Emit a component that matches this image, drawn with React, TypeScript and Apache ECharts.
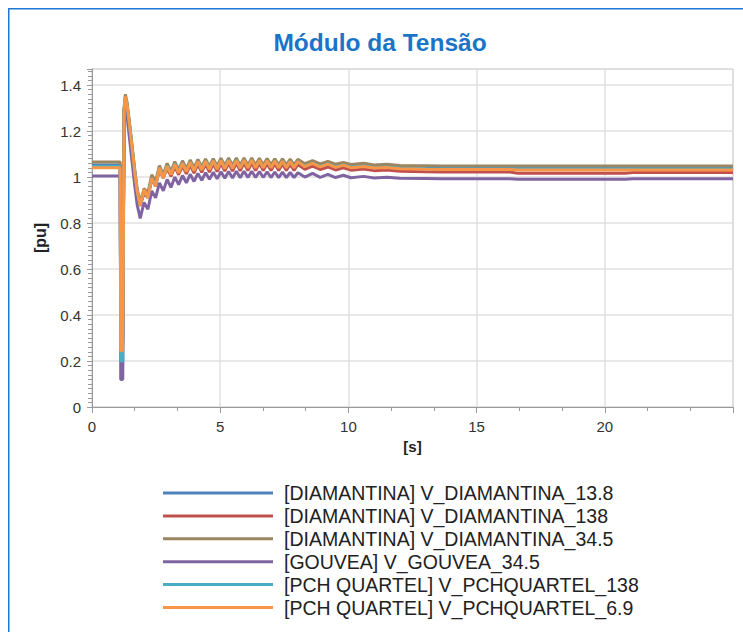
import React, { useEffect, useRef } from "react";
import * as echarts from "echarts";

// time axis (s)
const times = [
  0, 1.1, 1.12, 1.2, 1.25, 1.3, 1.36, 1.46, 1.56, 1.66, 1.76, 1.88,
  2.03, 2.18, 2.33, 2.48, 2.63, 2.78, 2.93, 3.08, 3.23, 3.38, 3.53, 3.68, 3.83, 3.98,
  4.13, 4.28, 4.43, 4.58, 4.73, 4.88, 5.03, 5.18, 5.33, 5.48, 5.63, 5.78, 5.93, 6.08,
  6.23, 6.38, 6.53, 6.68, 6.83, 6.98, 7.13, 7.28, 7.43, 7.58, 7.73, 7.88, 8.03,
  8.3, 8.6, 8.9, 9.2, 9.5, 9.8, 10.1, 10.6, 11, 11.5, 12, 13, 13.6, 16.3, 16.6, 20.8, 21.1, 25,
];

const seriesNames = [
  "[DIAMANTINA] V_DIAMANTINA_13.8",
  "[DIAMANTINA] V_DIAMANTINA_138",
  "[DIAMANTINA] V_DIAMANTINA_34.5",
  "[GOUVEA] V_GOUVEA_34.5",
  "[PCH QUARTEL] V_PCHQUARTEL_138",
  "[PCH QUARTEL] V_PCHQUARTEL_6.9",
];

const seriesColors = ["#4f81bd", "#c0504d", "#9b8660", "#8064a2", "#4bacc6", "#f79646"];

const vDiamantina13_8 = [
  1.052, 1.052, 0.28, 0.28, 1.29, 1.345, 1.32, 1.23, 1.13, 1.03, 0.94, 0.88,
  0.94, 0.92, 1.0, 0.97, 1.045, 1.005, 1.053, 1.018, 1.06, 1.025, 1.064, 1.029, 1.067, 1.033,
  1.069, 1.035, 1.071, 1.037, 1.072, 1.039, 1.074, 1.041, 1.075, 1.041, 1.075, 1.042, 1.075, 1.043,
  1.075, 1.043, 1.074, 1.043, 1.073, 1.044, 1.072, 1.044, 1.071, 1.044, 1.07, 1.044, 1.069,
  1.05, 1.064, 1.049, 1.06, 1.047, 1.056, 1.046, 1.051, 1.044, 1.047, 1.041, 1.039, 1.038, 1.038, 1.038, 1.038, 1.038, 1.038,
];

const vDiamantina138 = [
  1.045, 1.045, 0.27, 0.27, 1.28, 1.34, 1.31, 1.22, 1.12, 1.02, 0.93, 0.875,
  0.93, 0.91, 0.99, 0.96, 1.03, 0.995, 1.038, 1.003, 1.045, 1.01, 1.049, 1.014, 1.052, 1.017,
  1.055, 1.02, 1.057, 1.022, 1.058, 1.024, 1.06, 1.026, 1.061, 1.026, 1.061, 1.027, 1.061, 1.028,
  1.061, 1.028, 1.06, 1.028, 1.059, 1.029, 1.058, 1.029, 1.057, 1.029, 1.056, 1.029, 1.055,
  1.034, 1.048, 1.033, 1.044, 1.031, 1.04, 1.03, 1.035, 1.028, 1.031, 1.025, 1.023, 1.022, 1.022, 1.017, 1.017, 1.02, 1.02,
];

const vDiamantina34_5 = [
  1.066, 1.066, 0.3, 0.3, 1.3, 1.36, 1.33, 1.24, 1.14, 1.04, 0.95, 0.89,
  0.95, 0.93, 1.01, 0.98, 1.05, 1.01, 1.06, 1.025, 1.067, 1.032, 1.071, 1.037, 1.074, 1.041,
  1.077, 1.044, 1.079, 1.046, 1.08, 1.048, 1.082, 1.05, 1.083, 1.05, 1.083, 1.051, 1.083, 1.052,
  1.083, 1.052, 1.082, 1.052, 1.081, 1.053, 1.08, 1.053, 1.079, 1.053, 1.078, 1.053, 1.077,
  1.058, 1.072, 1.057, 1.068, 1.056, 1.064, 1.055, 1.06, 1.053, 1.056, 1.05, 1.049, 1.048, 1.048, 1.048, 1.048, 1.048, 1.048,
];

const vGouvea34_5 = [
  1.005, 1.005, 0.12, 0.12, 1.24, 1.3, 1.27, 1.17, 1.07, 0.97, 0.88, 0.82,
  0.89, 0.86, 0.94, 0.91, 0.975, 0.94, 0.99, 0.955, 1.0, 0.967, 1.007, 0.975, 1.012, 0.981,
  1.016, 0.986, 1.019, 0.99, 1.021, 0.993, 1.023, 0.995, 1.024, 0.996, 1.025, 0.997, 1.025, 0.998,
  1.025, 0.998, 1.024, 0.998, 1.023, 0.998, 1.022, 0.998, 1.021, 0.998, 1.02, 0.998, 1.019,
  1.0, 1.016, 0.999, 1.012, 0.998, 1.008, 0.997, 1.003, 0.996, 0.999, 0.995, 0.994, 0.993, 0.993, 0.99, 0.99, 0.993, 0.993,
];

const vPchQuartel138 = [
  1.046, 1.046, 0.2, 0.2, 1.29, 1.345, 1.32, 1.23, 1.13, 1.03, 0.94, 0.875,
  0.94, 0.915, 0.995, 0.965, 1.04, 1.0, 1.05, 1.015, 1.058, 1.022, 1.061, 1.026, 1.064, 1.03,
  1.067, 1.033, 1.069, 1.035, 1.07, 1.037, 1.072, 1.039, 1.073, 1.039, 1.073, 1.04, 1.073, 1.041,
  1.073, 1.041, 1.072, 1.041, 1.071, 1.042, 1.07, 1.042, 1.069, 1.042, 1.068, 1.042, 1.067,
  1.047, 1.061, 1.046, 1.057, 1.044, 1.053, 1.043, 1.048, 1.041, 1.044, 1.038, 1.036, 1.035, 1.035, 1.035, 1.035, 1.035, 1.035,
];

const vPchQuartel6_9 = [
  1.041, 1.041, 0.245, 0.245, 1.29, 1.35, 1.32, 1.23, 1.13, 1.03, 0.94, 0.875,
  0.945, 0.91, 0.995, 0.96, 1.04, 0.995, 1.048, 1.01, 1.056, 1.018, 1.06, 1.024, 1.064, 1.028,
  1.067, 1.031, 1.069, 1.033, 1.07, 1.035, 1.072, 1.037, 1.073, 1.038, 1.073, 1.039, 1.073, 1.04,
  1.073, 1.04, 1.072, 1.04, 1.071, 1.041, 1.07, 1.041, 1.069, 1.041, 1.068, 1.041, 1.067,
  1.045, 1.06, 1.044, 1.056, 1.042, 1.052, 1.041, 1.046, 1.039, 1.042, 1.036, 1.034, 1.033, 1.033, 1.031, 1.031, 1.031, 1.031,
];

const seriesValues = [
  vDiamantina13_8,
  vDiamantina138,
  vDiamantina34_5,
  vGouvea34_5,
  vPchQuartel138,
  vPchQuartel6_9,
];

const xTickInterval = 5;
const yTickInterval = 0.2;

const FONT = "'Liberation Sans', Arial, sans-serif";

export default function App() {
  const ref = useRef<HTMLDivElement>(null);

  useEffect(() => {
    if (!ref.current) return;
    const chart = echarts.init(ref.current, undefined, { renderer: "svg" });
    const axisGrey = "#9a9a9a";
    chart.setOption({
      animation: false,
      backgroundColor: "#ffffff",
      textStyle: { fontFamily: FONT },
      graphic: [
        { type: "rect", shape: { x: 8, y: 8, width: 735, height: 1.5 }, style: { fill: "#1f78d1" } },
        { type: "rect", shape: { x: 8, y: 8, width: 1.5, height: 624 }, style: { fill: "#1f78d1" } },
        {
          type: "text",
          x: 380,
          y: 42,
          style: {
            text: "Módulo da Tensão",
            fontSize: 24.5,
            fontWeight: "bold",
            fill: "#1b74c8",
            fontFamily: FONT,
            textAlign: "center",
            textVerticalAlign: "middle",
          },
        },
      ],
      grid: {
        left: 92,
        right: 10,
        top: 69,
        bottom: 225,
        show: true,
        borderColor: "#b4b4b4",
        borderWidth: 1,
        containLabel: false,
      },
      legend: {
        data: seriesNames,
        orient: "vertical",
        left: 158,
        top: 478,
        icon: "rect",
        itemWidth: 110,
        itemHeight: 3,
        itemGap: 2.9,
        selectedMode: false,
        textStyle: { fontSize: 19.5, color: "#222", fontFamily: FONT, lineHeight: 19.5, padding: [0, 0, 0, 6] },
      },
      xAxis: {
        type: "value",
        min: 0,
        max: 25,
        interval: xTickInterval,
        name: "[s]",
        nameLocation: "middle",
        nameGap: 31,
        nameTextStyle: { fontSize: 15, fontWeight: "bold", color: "#222", fontFamily: FONT },
        axisLine: { show: true, lineStyle: { color: axisGrey } },
        axisTick: { show: true, length: 6, lineStyle: { color: axisGrey } },
        minorTick: { show: true, splitNumber: 3, length: 4, lineStyle: { color: axisGrey } },
        axisLabel: { margin: 12, fontSize: 15, color: "#333", fontFamily: FONT, showMaxLabel: false },
        splitLine: { show: true, lineStyle: { color: "#e0e0e0", width: 1.5 } },
      },
      yAxis: {
        type: "value",
        min: 0,
        max: 1.47,
        interval: yTickInterval,
        name: "[pu]",
        nameLocation: "middle",
        nameGap: 44,
        nameTextStyle: { fontSize: 16, fontWeight: "bold", color: "#222", fontFamily: FONT },
        axisLine: { show: true, lineStyle: { color: axisGrey } },
        axisTick: { show: true, length: 5, lineStyle: { color: axisGrey } },
        minorTick: { show: true, splitNumber: 10, length: 4, lineStyle: { color: axisGrey } },
        axisLabel: {
          margin: 11,
          fontSize: 15,
          color: "#333",
          fontFamily: FONT,
          showMaxLabel: false,
          formatter: (v: number) => String(Math.round(v * 10) / 10),
        },
        splitLine: { show: true, lineStyle: { color: "#e0e0e0", width: 1.5 } },
      },
      series: seriesNames.map((name, k) => ({
        name,
        type: "line",
        showSymbol: false,
        symbol: "none",
        color: seriesColors[k],
        lineStyle: { width: 3, color: seriesColors[k] },
        data: times.map((t, i) => [t, seriesValues[k][i]]),
      })),
    });
    return () => chart.dispose();
  }, []);

  return (
    <div
      ref={ref}
      style={{ position: "fixed", left: 0, top: 0, width: 743, height: 632, background: "#fff" }}
    />
  );
}
